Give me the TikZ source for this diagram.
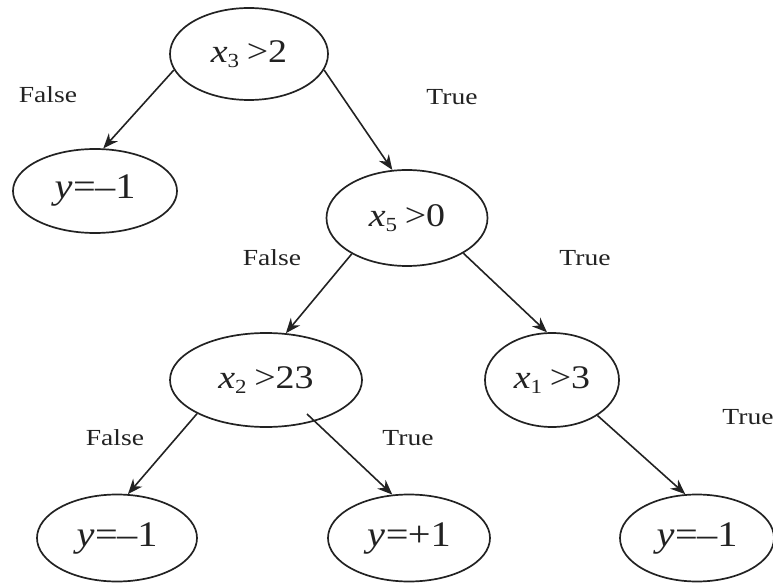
\documentclass[tikz,border=0pt]{standalone}
\usepackage{fontspec}
\setmainfont{LiberationSerif}[Extension=.ttf,UprightFont=*-Regular,ItalicFont=*-Italic,BoldFont=*-Bold]
\usetikzlibrary{shapes.geometric,arrows.meta}
\definecolor{ink}{HTML}{222222}
\newcommand{\xcond}[2]{\scalebox{1.15}[1]{\fontsize{33}{36}\selectfont\textit{x}\raisebox{-0.32ex}{\fontsize{20}{21}\selectfont #1}\kern0.2em>#2}}
\newcommand{\yval}[1]{\scalebox{1.12}[1]{\fontsize{36}{40}\selectfont\textit{y}\kern0.02em=\kern-0.02em#1}}
\newcommand{\lbl}[1]{\scalebox{1.2}[1]{\fontsize{23}{26}\selectfont #1}}
\tikzset{
  oval/.style={ellipse,draw=ink,line width=1.7pt,inner sep=0pt,text=ink},
  arr/.style={-{Stealth[length=15pt,width=12pt]},draw=ink,line width=1.6pt},
  lab/.style={text=ink,inner sep=0pt}
}
\begin{document}
\begin{tikzpicture}[x=1pt,y=-1pt]
\useasboundingbox (0,0) rectangle (773,585);
\node[oval,minimum width=158pt,minimum height=92pt] (root) at (249,54) {\xcond{3}{2}};
\node[oval,minimum width=164pt,minimum height=84pt] (l1) at (95,191) {\yval{–1}};
\node[oval,minimum width=161pt,minimum height=96pt] (x5) at (407,218) {\xcond{5}{0}};
\node[oval,minimum width=192pt,minimum height=94pt] (x2) at (266,380) {\xcond{2}{23}};
\node[oval,minimum width=134pt,minimum height=94pt] (x1) at (552,380) {\xcond{1}{3}};
\node[oval,minimum width=160pt,minimum height=87pt] (b1) at (117,538) {\yval{–1}};
\node[oval,minimum width=162pt,minimum height=87pt] (b2) at (409,538) {\yval{+1}};
\node[oval,minimum width=154pt,minimum height=87pt] (b3) at (697,538) {\yval{–1}};
\coordinate (x2in) at (307,414);
\draw[arr] (root.192) -- (l1.79);
\draw[arr] (root.348) -- (x5.107);
\draw[arr] (x5.213) -- (x2.67);
\draw[arr] (x5.328) -- (x1.96);
\draw[arr] (x2.206) -- (b1.76);
\draw[arr] (x2in) -- (b2.111);
\draw[arr] (x1.322) -- (b3.105);
\node[lab] (f1) at (48,95) {\lbl{False}};
\node[lab] (t1) at (452,97) {\lbl{True}};
\node[lab] (f2) at (272,258) {\lbl{False}};
\node[lab] (t2) at (585,258) {\lbl{True}};
\node[lab] (f3) at (115,438) {\lbl{False}};
\node[lab] (t3) at (408,438) {\lbl{True}};
\node[lab] (t4) at (748,417) {\lbl{True}};
\end{tikzpicture}
\end{document}
